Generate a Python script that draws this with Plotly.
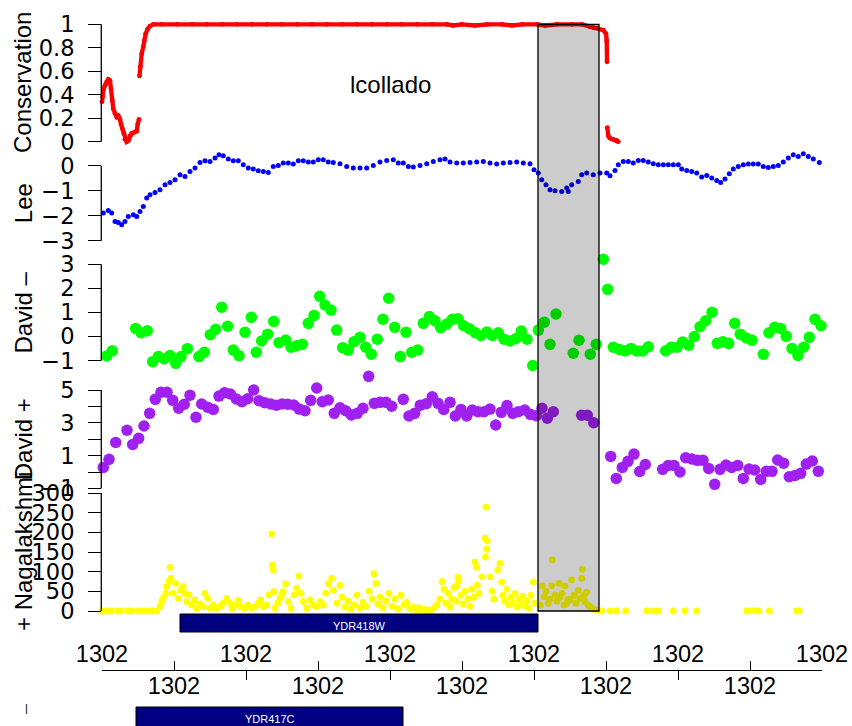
import plotly.graph_objects as go

# ---------------- data (x = genomic offset, 720 units across the window) ----------------
cons_x = [0, 0.5, 1.3, 3, 4.7, 6.3, 8, 9, 10.3, 11.3, 13, 14.7, 16.3, 18, 19, 20.3, 21.7, 23, 24.7,
          26.3, 28, 29.7, 32.3, 34.7, 35.7, 37, None,
          37.5, 38.3, 39.7, 41.3, 42.3, 43.7, 45.7, 48, 51.3, 60, 75, 90, 105, 120, 135, 150, 165,
          180, 195, 210, 225, 240, 255, 270, 285, 300, 315, 330, 345, 351, 360, 373, 385, 400, 410,
          420, 435, 443, 455, 470, 480, 488, 492, 495, 501.3, 504, 504.7, 505, None,
          505.3, 506.3, 508, 511.3, 514.7, 516.3]
cons_y = [0.34, 0.38, 0.44, 0.48, 0.51, 0.53, 0.52, 0.45, 0.35, 0.28, 0.24, 0.21, 0.22, 0.19, 0.15,
          0.11, 0.07, 0.02, 0.0, 0.01, 0.05, 0.07, 0.08, 0.09, 0.15, 0.19, None,
          0.56, 0.64, 0.75, 0.81, 0.86, 0.92, 0.96, 0.985, 1.0, 1.0, 1.0, 1.0, 1.0, 1.0, 1.0, 1.0, 1.0,
          1.0, 1.0, 1.0, 1.0, 1.0, 1.0, 1.0, 1.0, 1.0, 1.0, 1.0, 1.0, 0.99, 1.0, 0.99, 1.0, 1.0, 0.99,
          1.0, 1.0, 0.99, 1.0, 1.0, 1.0, 0.98, 0.97, 0.97, 0.95, 0.92, 0.86, 0.68, None,
          0.12, 0.05, 0.03, 0.02, 0.01, 0.0]

lee_x = [1.3, 6.3, 9.7, 13, 16.3, 19.7, 23, 26.3, 31.3, 34.7, 38, 41.3, 44.7, 48, 53, 58, 63, 68, 73,
         78, 83, 88, 93, 98, 103, 108, 113, 117, 121.3, 126.3, 131.3, 136.3, 141.3, 146.3, 151.3,
         156.3, 161.3, 166.3, 171.3, 176.3, 181.3, 186.3, 191.3, 196.3, 201.3, 206.3, 211.3, 216.3,
         221.3, 226.3, 231.3, 238, 244.7, 251.3, 258, 264.7, 271.3, 278, 284.7, 291.3, 296.3, 301.3,
         306.3, 311.3, 318, 324.7, 331.3, 338, 343, 348, 354.7, 361.3, 368, 374.7, 381.3, 388, 394.7,
         401.3, 408, 414.7, 421.3, 428, 432, 436.3, 439.7, 444, 448, 453, 459.7, 464.7, 466.3, 469.7,
         476.3, 479.7, 484.7, 491.3, 498, 504.7, 508, 513, 516.3, 521.3, 526.3, 531.3, 536.3, 541.3,
         546.3, 551.3, 556.3, 561.3, 566.3, 571.3, 576.3, 579.7, 584.7, 589.7, 594.7, 599.7, 604.7,
         609.7, 614.7, 618.7, 623, 627.3, 631.3, 636.3, 641.3, 646.3, 651.3, 656.3, 661.3, 666.3,
         671.3, 676.3, 681.3, 686.3, 691.3, 696.3, 701.3, 706.3, 711.3, 717.3]
lee_y = [-1.89, -1.79, -1.89, -2.23, -2.27, -2.36, -2.23, -2.03, -1.96, -2.03, -1.83, -1.63, -1.29,
         -1.16, -1.07, -0.96, -0.76, -0.67, -0.56, -0.36, -0.43, -0.23, -0.09, 0.13, 0.2, 0.17, 0.31,
         0.44, 0.4, 0.27, 0.2, 0.2, 0.04, -0.09, -0.13, -0.2, -0.23, -0.27, -0.03, 0.01, 0.11, 0.11,
         0.07, 0.2, 0.2, 0.15, 0.15, 0.24, 0.24, 0.15, 0.13, 0.08, -0.03, -0.09, -0.09, -0.09, 0.01,
         0.15, 0.21, 0.24, 0.11, 0.11, -0.03, -0.05, 0.01, 0.08, 0.17, 0.24, 0.27, 0.15, 0.11, 0.11,
         0.13, 0.15, 0.17, 0.11, 0.07, 0.11, 0.13, 0.15, 0.11, 0.08, -0.16, -0.29, -0.56, -0.76, -0.96,
         -1.0, -1.03, -0.89, -1.03, -0.76, -0.63, -0.36, -0.29, -0.36, -0.29, -0.29, -0.4, -0.19, 0.04,
         0.17, 0.17, 0.11, 0.21, 0.21, 0.15, 0.08, 0.04, 0.04, 0.04, 0.04, 0.04, -0.13, -0.19, -0.23,
         -0.29, -0.45, -0.39, -0.49, -0.59, -0.67, -0.53, -0.32, -0.13, -0.03, 0.04, 0.07, 0.07, 0.07,
         -0.03, -0.07, -0.03, 0.01, 0.15, 0.31, 0.44, 0.37, 0.48, 0.37, 0.27, 0.13]

dm_x = [4.7, 10.3, 33.7, 39, 45.3, 50.7, 56.3, 62.3, 68, 73.7, 79, 85.3, 97, 102.3, 108.3, 113.7, 119.7,
        125.7, 131.3, 137, 143, 149.3, 154.3, 159.7, 165.7, 171.7, 177, 183.7, 189, 194.7, 200.3,
        206.3, 212, 217.7, 223, 229, 234.7, 240.7, 246.3, 252, 258, 263.7, 269.3, 275.3, 281, 286.7,
        292.7, 298.3, 304, 309.7, 315.7, 321.3, 327.3, 333, 338.7, 344.7, 350.3, 356, 361.7, 367.3,
        373.3, 379, 384.7, 390.3, 396.3, 402, 408, 413.7, 419.3, 425, 430.7, 436.3, 442.3, 448, 454,
        471.3, 477, 488.3, 494.3, 501.3, 505.7, 511.3, 517.3, 523.3, 529, 534.7, 540.7, 546.3, 563.7,
        569.3, 575, 580.7, 586.7, 592.3, 598, 603.7, 610, 615.3, 621, 626.7, 632.7, 638.3, 644.3, 650,
        661.3, 667, 672.7, 678.7, 684.3, 690, 696, 701.7, 707.3, 713, 719]
dm_y = [-0.80, -0.59, 0.34, 0.16, 0.24, -1.04, -0.83, -0.92, -0.78, -1.11, -0.83, -0.50, -0.83, -0.65,
        0.08, 0.30, 1.22, 0.43, -0.56, -0.79, 0.18, 0.80, -0.65, -0.18, 0.10, 0.63, -0.25, -0.14, -0.44,
        -0.38, -0.32, 0.55, 0.88, 1.67, 1.31, 1.10, 0.27, -0.46, -0.56, -0.21, -0.03, -0.44, -0.73,
        -0.11, 0.72, 1.59, 0.39, -0.83, 0.18, -0.65, -0.56, 0.55, 0.83, 0.66, 0.37, 0.52, 0.72, 0.74,
        0.45, 0.33, 0.16, 0.05, 0.19, 0.05, 0.16, -0.11, -0.18, -0.09, 0.23, -0.11, -1.20, 0.27, 0.60,
        -0.32, 0.94, -0.69, -0.15, -0.73, -0.32, 3.21, 1.96, -0.44, -0.53, -0.59, -0.49, -0.60, -0.60,
        -0.42, -0.59, -0.44, -0.44, -0.22, -0.36, 0.00, 0.41, 0.66, 1.01, -0.28, -0.21, -0.28, 0.55,
        0.10, -0.06, -0.15, -0.73, 0.16, 0.39, 0.34, 0.01, -0.49, -0.78, -0.44, -0.03, 0.72, 0.45]

dp_x = [1.3, 7, 13.7, 25, 30.7, 36.7, 42, 47.7, 53.3, 59, 65, 70.7, 76.7, 82.3, 88, 94, 99.7, 105.7,
        111.3, 117, 122.7, 128.3, 134.3, 140, 145.7, 151.7, 157, 162.7, 168.7, 174.3, 180, 185.7,
        191.7, 197.3, 203, 208.7, 214.7, 220.3, 226.3, 232.3, 238, 243.7, 249.3, 255.3, 261, 266.7,
        272.3, 278, 284, 289.7, 301.3, 307, 312.7, 318.3, 324.3, 330.3, 336, 341.7, 348, 353.3, 359,
        364.7, 370.3, 376, 382, 388, 393.7, 399.3, 405, 410.7, 416.3, 422.7, 428.3, 434.3, 440, 445.3,
        451.3, 479.7, 485.3, 491.7, 508.7, 514.3, 520.3, 526, 532, 537.7, 543.3, 560.7, 566.3, 572,
        578, 583.7, 589.7, 595.3, 601, 606.7, 612.7, 618, 624, 629.7, 635.7, 641.3, 647, 652.7, 658.7,
        664.3, 670, 675.7, 681.7, 687.3, 693, 698.7, 704.3, 710.3, 716.3]
dp_y = [0.29, 0.78, 1.81, 2.55, 1.69, 2.06, 2.81, 3.58, 4.43, 4.86, 4.86, 4.37, 3.89, 4.13, 4.68, 3.34,
        4.15, 3.95, 3.82, 4.63, 4.84, 4.76, 4.45, 4.29, 4.47, 5.0, 4.35, 4.23, 4.15, 4.07, 4.15, 4.13,
        4.09, 3.84, 3.74, 4.37, 5.12, 4.29, 4.39, 3.58, 3.92, 3.74, 3.48, 3.58, 3.89, 5.83, 4.19, 4.25,
        4.25, 4.01, 4.43, 3.42, 3.58, 4.07, 4.17, 4.59, 4.19, 3.82, 4.25, 3.42, 3.82, 3.42, 3.78, 3.68,
        3.68, 3.84, 2.87, 3.64, 4.05, 3.58, 3.68, 3.78, 3.52, 3.44, 3.89, 3.28, 3.68, 3.46, 3.46, 3.01,
        0.96, -0.38, 0.29, 0.66, 1.10, 0.04, 0.47, 0.17, 0.41, 0.41, 0.01, 0.88, 0.80, 0.72, 0.72,
        0.23, -0.74, 0.17, 0.43, 0.29, 0.41, -0.38, 0.19, 0.13, -0.44, 0.05, 0.05, 0.74, 0.54, -0.28,
        -0.20, -0.07, 0.49, 0.68, 0.05]

nag_x = [0, 4.7, 9.7, 15.7, 19.7, 26.3, 29.7, 36.3, 41.3, 46.3, 51.3, 54.7,
         58, 59.7, 61.3, 63.7, 64.7, 67, 68, 69, 71.3, 73.7, 76.3, 79, 81.3, 83, 84.7, 87, 89.7, 92.3,
         94.7, 98, 101.3, 103, 105.7, 108, 111.3, 114.7, 118, 121.3, 124.7, 128, 130.3, 133, 136.3,
         139, 142.3, 145.7, 149.7, 153, 156.3, 158.7, 161.3, 164.7, 167, 169.7, 170.3, 171.3, 171.8,
         173, 175.7, 178, 179.7, 181.3, 183.7, 186.3, 189, 192.3, 194.7, 197, 199, 201.3, 204.7, 208,
         211.3, 214.7, 218, 221.3, 223.7, 226.3, 229.7, 231.3,
         235, 238, 240, 243, 246, 249, 252, 255, 258, 261, 264, 267, 270, 272, 274, 276, 278, 281, 284,
         287, 290, 293, 296, 299, 302, 305, 308, 311, 314, 317, 320, 323, 326, 329, 332, 335, 338, 340,
         342, 344, 346, 348, 350, 352, 354, 355, 356, 357, 359, 361, 363, 366, 368, 369.7, 372, 373,
         374.7, 375.3, 377, 379.7, 383, 383.5, 384, 385.3, 384.7, 388, 390, 392, 395.7, 398, 399.7, 401,
         403, 405, 407, 409, 411, 413, 415, 417, 419, 421, 423, 425, 427, 429, 431.3, 433,
         438.3, 440.3, 442, 444, 446.3, 448, 450.3, 449.7, 453, 455, 457, 458, 460, 462, 463, 464.7, 466,
         468, 469.7, 472, 474, 476.3, 478, 479.7, 480.3, 482, 483, 484.7, 486, 488, 491, 494.7,
         499.7, 508, 514.7, 523.7, 544.7, 551.3, 556.3, 571.3, 583, 594.7, 644.7, 650.7, 656.3, 667.3,
         694.7, 697.3]
nag_y = [0, 0, 0, 0, 0, 0, 0, 0, 0, 0, 0, 0,
         11, 24, 32, 45, 62, 75, 111, 83, 45, 70, 32, 53, 62, 45, 24, 41, 15, 28,
         7, 18, 11, 45, 32, 7, 15, 7, 11, 20, 32, 20, 7, 15, 26,
         11, 7, 15, 7, 11, 20, 28, 11, 15, 41, 196, 117, 104, 49,
         7, 20, 32, 41, 49, 69, 24, 7, 41, 58, 89, 45, 24, 7, 28,
         15, 11, 24, 15, 45, 69, 83, 53,
         20, 65, 35, 10, 25, 5, 15, 40, 8, 22, 12, 50, 30, 95, 70, 18, 35, 8, 25,
         45, 12, 30, 5, 40, 15, 22, 5, 10, 3, 8, 2, 5, 0, 3, 8, 15, 30, 75,
         55, 20, 45, 10, 30, 60, 25, 64, 86, 77, 40, 18, 50, 30, 12, 55, 35, 125,
         111, 66, 45, 87, 185, 137, 264, 178, 157, 87, 50, 30, 104, 121, 74, 40,
         25, 55, 15, 35, 20, 45, 10, 30, 18, 38, 12, 25, 8, 40, 74, 20,
         15, 64, 36, 50, 20, 30, 130, 64, 41, 25, 70, 35, 45, 15, 64, 20, 30,
         28, 79, 40, 20, 53, 32, 83, 106, 40, 24, 48, 15, 11, 5, 3,
         0, 0, 0, 0, 0, 0, 0, 0, 0, 0, 0, 1, 0, 0,
         0, 0]

# highlighted region and gene models
highlight_start, highlight_end = 436, 497
genes = ["YDR418W", "YDR417C"]
gene_start = [78, 34]
gene_end = [436, 301]

# axis ticks
x_range = [0, 720]
upper_tick_vals = [0, 144, 288, 432, 576, 720]
upper_tick_text = ["1302", "1302", "1302", "1302", "1302", "1302"]
lower_tick_vals = [72, 216, 360, 504, 648]
lower_tick_text = ["1302", "1302", "1302", "1302", "1302"]

cons_ticks = [0, 0.2, 0.4, 0.6, 0.8, 1]
cons_ticktext = ["0", "0.2", "0.4", "0.6", "0.8", "1"]
lee_ticks = [-3, -2, -1, 0]
dm_ticks = [-1, 0, 1, 2, 3]
dp_ticks = [-1, 0, 1, 2, 3, 4, 5]
dp_ticktext = ["\u22121", "", "1", "", "3", "", "5"]
nag_ticks = [0, 50, 100, 150, 200, 250, 300]

titles = ["Conservation", "Lee", "David \u2013", "David +", "+ Nagalakshmi"]

# ---------------- layout helpers ----------------
W, H = 852, 726
L, R = 102, 30
PW = W - L - R

def fy(px):
    return 1 - px / H

def fx(px):
    return (px - L) / PW

ARIAL = "Liberation Sans, Arial, sans-serif"
TICKF = dict(family="DejaVu Sans", size=22.5, color="black")

# panel calibration: (value at top tick, pixel), (value at bottom tick, pixel), padded range
panels = [
    dict(vt=1, pt=24.3, vb=0, pb=141.7, rng=[-0.04, 1.04], ticks=cons_ticks, text=cons_ticktext),
    dict(vt=0, pt=165.7, vb=-3, pb=240.7, rng=[-3.1, 0.6], ticks=lee_ticks, text=None),
    dict(vt=3, pt=264.3, vb=-1, pb=360.7, rng=[-1.35, 3.45], ticks=dm_ticks, text=None),
    dict(vt=5, pt=390, vb=-1, pb=488.6, rng=[-1.1, 6.1], ticks=dp_ticks, text=dp_ticktext),
    dict(vt=300, pt=493, vb=0, pb=611, rng=[-8, 300], ticks=nag_ticks, text=None),
]

def to_px(p, v):
    k = (p["pb"] - p["pt"]) / (p["vt"] - p["vb"])
    return p["pt"] + (p["vt"] - v) * k

fig = go.Figure()
fig.add_trace(go.Scatter(x=cons_x, y=cons_y, mode="lines+markers", yaxis="y",
                         line=dict(color="#FF0000", width=4.3), marker=dict(color="#FF0000", size=4.8),
                         connectgaps=False, cliponaxis=False, showlegend=False))
fig.add_trace(go.Scatter(x=lee_x, y=lee_y, mode="markers", yaxis="y2",
                         marker=dict(color="#0000FF", size=5), cliponaxis=False, showlegend=False))
fig.add_trace(go.Scatter(x=dm_x, y=dm_y, mode="markers", yaxis="y3",
                         marker=dict(color="#00FF00", size=11.5), cliponaxis=False, showlegend=False))
fig.add_trace(go.Scatter(x=dp_x, y=dp_y, mode="markers", yaxis="y4",
                         marker=dict(color="#A020F0", size=11.5), cliponaxis=False, showlegend=False))
fig.add_trace(go.Scatter(x=nag_x, y=nag_y, mode="markers", yaxis="y5",
                         marker=dict(color="#FFFF00", size=6.8), cliponaxis=False, showlegend=False))
# dummy traces so the two genome-axis rows render
fig.add_trace(go.Scatter(x=[None], y=[None], xaxis="x6", yaxis="y", showlegend=False, hoverinfo="skip"))
fig.add_trace(go.Scatter(x=[None], y=[None], xaxis="x7", yaxis="y", showlegend=False, hoverinfo="skip"))

layout_axes = {}
for i, p in enumerate(panels):
    name = "yaxis" if i == 0 else "yaxis%d" % (i + 1)
    lo, hi = p["rng"]
    d = dict(domain=[fy(to_px(p, lo)), fy(to_px(p, hi))], range=[lo, hi], anchor="x",
             showline=False, ticks="outside", ticklen=13, tickwidth=1.3, tickcolor="black",
             tickvals=p["ticks"], tickfont=TICKF, ticklabelstandoff=9,
             showgrid=False, zeroline=False, automargin=False, fixedrange=True)
    if p["text"] is not None:
        d["ticktext"] = p["text"]
    layout_axes[name] = d

fig.update_layout(
    width=W, height=H, margin=dict(l=L, r=R, t=0, b=0),
    paper_bgcolor="white", plot_bgcolor="white", showlegend=False,
    xaxis=dict(range=x_range, visible=False, domain=[0, 1], anchor="y", fixedrange=True),
    xaxis6=dict(overlaying="x", anchor="free", position=fy(670), side="top", range=x_range,
                tickvals=upper_tick_vals, ticktext=upper_tick_text, ticks="inside", ticklen=9,
                tickwidth=1.3, tickcolor="black", showline=True, linecolor="black", linewidth=1.3,
                showgrid=False, zeroline=False, automargin=False, ticklabelstandoff=-2,
                tickfont=dict(family=ARIAL, size=23.5, color="black")),
    xaxis7=dict(overlaying="x", anchor="free", position=fy(670), side="bottom", range=x_range,
                tickvals=lower_tick_vals, ticktext=lower_tick_text, ticks="inside", ticklen=9,
                tickwidth=1.3, tickcolor="black", showline=True, linecolor="black", linewidth=1.3,
                showgrid=False, zeroline=False, automargin=False, ticklabelstandoff=-5,
                tickfont=dict(family=ARIAL, size=23.5, color="black")),
    **layout_axes,
)

# y-axis lines spanning only the tick range (as in the original)
for i, p in enumerate(panels):
    yref = "y" if i == 0 else "y%d" % (i + 1)
    fig.add_shape(type="line", xref="paper", yref=yref, x0=-0.001, x1=-0.001,
                  y0=min(p["ticks"]), y1=max(p["ticks"]), line=dict(color="black", width=1.3))

# highlight box spanning all data panels
fig.add_shape(type="rect", xref="x", yref="paper", x0=highlight_start, x1=highlight_end,
              y0=fy(611), y1=fy(24.3), fillcolor="rgba(0,0,0,0.2)",
              line=dict(color="black", width=1.3), layer="above")

# gene models
gene_rows = [(614, 632), (707, 735)]
for name, s, e, (t, b) in zip(genes, gene_start, gene_end, gene_rows):
    fig.add_shape(type="rect", xref="x", yref="paper", x0=s, x1=e, y0=fy(b), y1=fy(t),
                  fillcolor="#000080", line=dict(color="black", width=1), layer="above")
    fig.add_annotation(x=(s + e) / 2, y=fy(t + 12), xref="x", yref="paper", text=name,
                       showarrow=False, font=dict(family=ARIAL, size=11, color="white"),
                       xanchor="center", yanchor="middle")

# panel titles
for title, p in zip(titles, panels):
    fig.add_annotation(x=fx(23), y=fy((p["pt"] + p["pb"]) / 2), xref="paper", yref="paper",
                       text=title, textangle=-90, showarrow=False, xanchor="center",
                       yanchor="middle", font=dict(family=ARIAL, size=24, color="black"))
fig.add_annotation(x=fx(23), y=fy(716), xref="paper", yref="paper", text="|", showarrow=False,
                   font=dict(family=ARIAL, size=11, color="black"))

fig.add_annotation(x=fx(390), y=fy(84), xref="paper", yref="paper", text="lcollado", showarrow=False,
                   xanchor="center", yanchor="middle", font=dict(family=ARIAL, size=24, color="black"))

fig.write_html("out.html", config={"displayModeBar": False},
               post_script="document.body.style.margin='0px';")
